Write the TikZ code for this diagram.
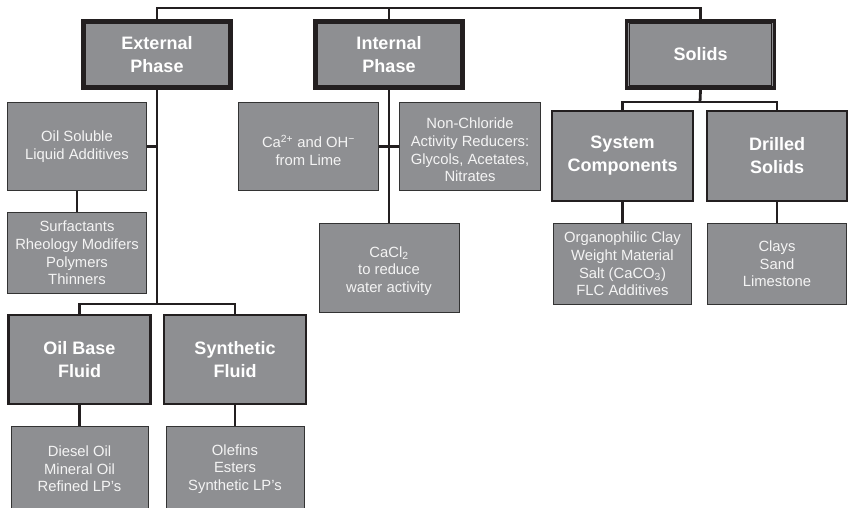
\documentclass[tikz,border=0pt]{standalone}
\usepackage{fontspec}
\setmainfont{Liberation Sans}
\definecolor{ink}{HTML}{231F20}
\definecolor{boxgray}{RGB}{142,143,146}
\definecolor{edgegray}{HTML}{333333}
\definecolor{txt}{HTML}{F4F4F4}
\begin{document}
\begin{tikzpicture}[x=1pt,y=-1pt,
  box/.style={fill=boxgray, draw=edgegray, line width=1pt, text=txt, align=center,
    font=\fontsize{14.8}{17.6}\selectfont, inner sep=0pt},
  boxtext/.style={text=txt, align=center, font=\fontsize{14.8}{17.6}\selectfont, inner sep=0pt},
  midbox/.style={box, draw=ink, line width=2.4pt, text=white,
    font=\bfseries\fontsize{18}{23}\selectfont},
  heavybox/.style={box, draw=ink, line width=3.5pt, text=white,
    font=\bfseries\fontsize{18}{23}\selectfont,
    minimum width=148pt, minimum height=67pt},
  innerline/.style={draw=ink, line width=0.9pt},
  link/.style={draw=ink, line width=2.8pt},
]
\useasboundingbox (0,0) rectangle (850,507);

% top-level
\node[heavybox] (ext) at (157,54.5) {External\\Phase};
\node[heavybox] (int) at (389,54.5) {Internal\\Phase};
\node[heavybox] (sol) at (700.5,54.5) {Solids};

% external phase branch
\node[box, minimum width=139pt, minimum height=88pt] (oilsol) at (77,146.5) {Oil Soluble\\Liquid Additives};
\node[box, minimum width=139pt, minimum height=81pt] (surf) at (77,253) {Surfactants\\Rheology Modifers\\Polymers\\Thinners};
\node[midbox, minimum width=142pt, minimum height=89pt] (oilbase) at (79.5,359.5) {Oil Base\\Fluid};
\node[midbox, minimum width=142pt, minimum height=89pt] (synth) at (235,359.5) {Synthetic\\Fluid};
\node[box, minimum width=137pt, minimum height=86pt] (diesel) at (79.5,469) {Diesel Oil\\Mineral Oil\\Refined LP's};
\node[box, minimum width=138pt, minimum height=86pt] (olef) at (235,469) {Olefins\\Esters\\Synthetic LP's};

% internal phase branch
\node[box, minimum width=140pt, minimum height=88pt] (ca) at (308.5,146.5) {};
\node[boxtext] (catext) at ([yshift=-4pt]ca.center) {Ca\textsuperscript{2+} and OH\textsuperscript{−}\\from Lime};
\node[box, minimum width=141pt, minimum height=88pt] (nonchl) at (470,146.5) {};
\node[boxtext] (nonchltext) at ([yshift=-3.5pt]nonchl.center) {Non-Chloride\\Activity Reducers:\\Glycols, Acetates,\\Nitrates};
\node[box, minimum width=140pt, minimum height=89pt] (cacl) at (389,268) {};
\node[boxtext] (cacltext) at ([yshift=-3pt]cacl.center) {CaCl\textsubscript{2}\\to reduce\\water activity};

% solids branch
\node[midbox, minimum width=141pt, minimum height=90pt] (sys) at (622.5,156) {System\\Components};
\node[midbox, minimum width=140pt, minimum height=90pt] (dri) at (777,156) {Drilled\\Solids};
\node[box, minimum width=138pt, minimum height=81pt] (org) at (622.5,264) {Organophilic Clay\\Weight Material\\Salt (CaCO\textsubscript{3})\\FLC Additives};
\node[box, minimum width=139pt, minimum height=81pt] (clay) at (777,264) {Clays\\Sand\\Limestone};

% inner lines of heavy boxes
\foreach \n in {ext,int,sol}
  \draw[innerline] ([xshift=4.5pt,yshift=-4.5pt]\n.north west) rectangle ([xshift=-4.5pt,yshift=4.5pt]\n.south east);

% connectors
\coordinate (top) at (0,8);
\coordinate (eb) at (157,304);
\coordinate (sb) at (700,102);
\draw[link] (ext.north) |- (top -| sol.north) -- (sol.north);
\draw[link] (int.north) -- (int.north |- top);
\draw[link] (ext.south) -- (eb);
\draw[link] (oilsol.east) -- (oilsol.east -| ext.south);
\draw[link] (oilsol.south) -- (surf.north);
\draw[link] (oilbase.north) |- (synth.north |- eb) -- (synth.north);
\draw[link] (oilbase.south) -- (diesel.north);
\draw[link] (synth.south) -- (olef.north);
\draw[link] (int.south) -- (cacl.north);
\draw[link] (ca.east) -- (nonchl.west);
\draw[link] (sol.south) -- (sb);
\draw[link] (sys.north) |- (dri.north |- sb) -- (dri.north);
\draw[link] (sys.south) -- (org.north);
\draw[link] (dri.south) -- (clay.north);
\end{tikzpicture}
\end{document}
